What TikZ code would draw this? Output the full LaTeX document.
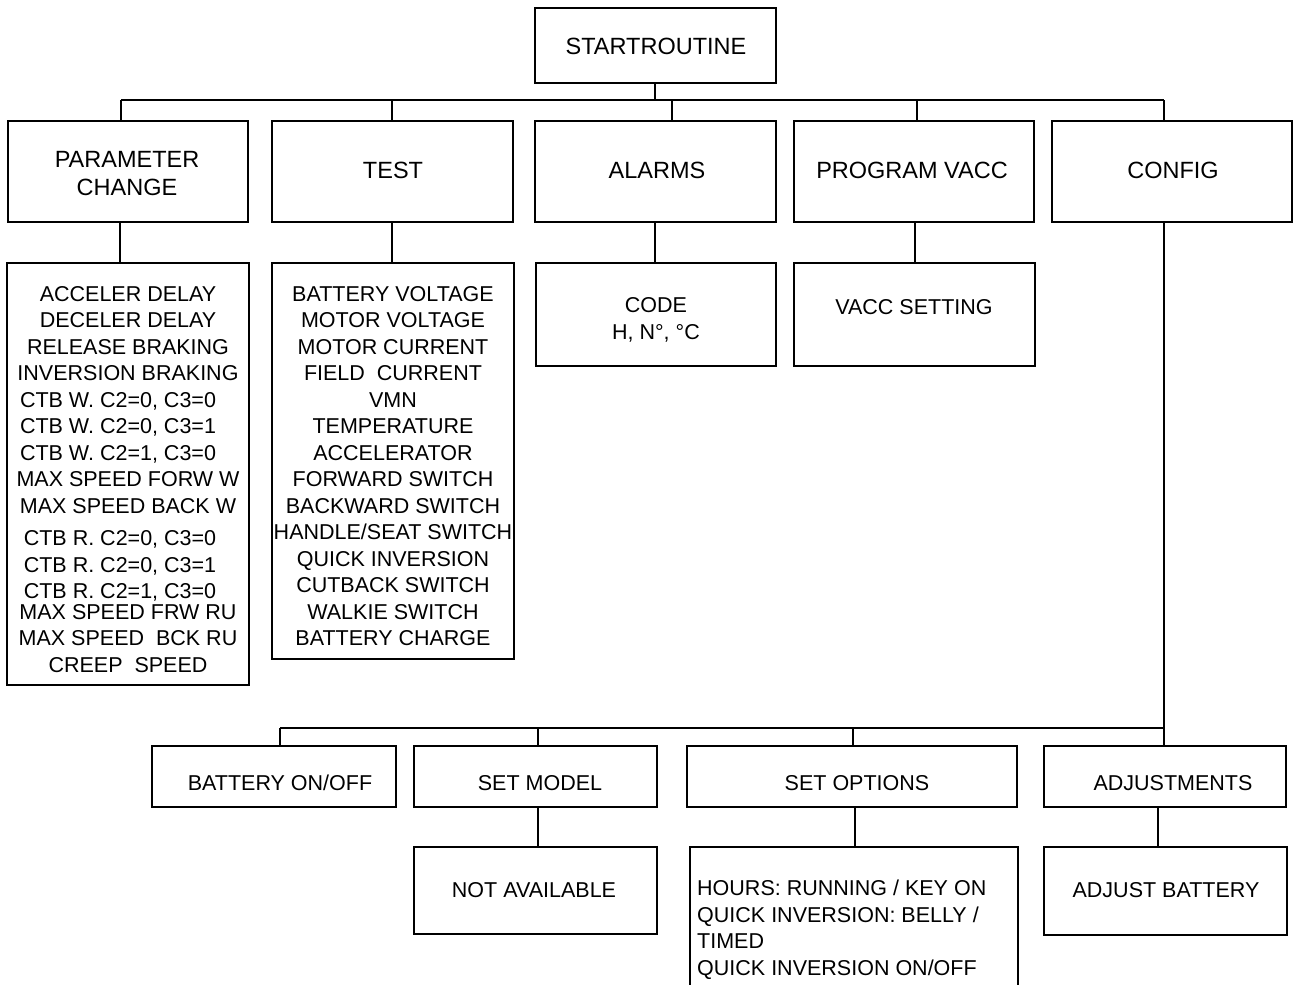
\documentclass[tikz,border=0pt]{standalone}
\usepackage{fontspec}
\setmainfont{Liberation Sans}
\begin{document}
\begin{tikzpicture}[x=1pt,y=-1pt,
  box/.style 2 args={draw,line width=2pt,inner sep=0pt,outer sep=0pt,minimum width=#1,minimum height=#2},
  conn/.style={line width=2pt},
  big/.style={font=\fontsize{23.5}{28}\selectfont,align=center,inner sep=0pt},
  txt/.style={font=\fontsize{21.5}{26.5}\selectfont,align=center,inner sep=0pt}]
\useasboundingbox (0,0) rectangle (1294,985);
\clip (0,0) rectangle (1294,985);
% boxes
\node[box={241}{75}] (start) at (655.5,45.5) {};
\node[box={240}{101}] (pc) at (128,171.5) {};
\node[box={241}{101}] (test) at (392.5,171.5) {};
\node[box={241}{101}] (alarms) at (655.5,171.5) {};
\node[box={240}{101}] (pvacc) at (914,171.5) {};
\node[box={240}{101}] (config) at (1172,171.5) {};
\node[box={242}{422}] (plist) at (128,474) {};
\node[box={242}{396}] (tlist) at (393,461) {};
\node[box={240}{103}] (code) at (656,314.5) {};
\node[box={241}{103}] (vset) at (914.5,314.5) {};
\node[box={244}{61}] (batt) at (274,776.5) {};
\node[box={243}{61}] (smodel) at (535.5,776.5) {};
\node[box={330}{61}] (sopt) at (852,776.5) {};
\node[box={242}{61}] (adj) at (1165,776.5) {};
\node[box={243}{87}] (na) at (535.5,890.5) {};
\node[box={328}{153}] (olist) at (854,923.5) {};
\node[box={243}{88}] (adjb) at (1165.5,891) {};
% texts
\node[big] (startt) at (656,46) {STARTROUTINE};
\node[big] (pct) at (127,174) {PARAMETER\\CHANGE};
\node[big] (testt) at (393,170) {TEST};
\node[big] (alarmst) at (657,170) {ALARMS};
\node[big] (pvacct) at (912,170) {PROGRAM VACC};
\node[big] (configt) at (1173,170) {CONFIG};
\node[txt] (plt) at (128,479.5) {ACCELER DELAY\\DECELER DELAY\\RELEASE BRAKING\\INVERSION BRAKING\\
\hbox{CTB W. C2=0, C3=0\kern20pt}\\\hbox{CTB W. C2=0, C3=1\kern20pt}\\\hbox{CTB W. C2=1, C3=0\kern20pt}\\
MAX SPEED FORW W\\MAX SPEED BACK W\\[6pt]
\hbox{CTB R. C2=0, C3=0\kern16pt}\\\hbox{CTB R. C2=0, C3=1\kern16pt}\\\hbox{CTB R. C2=1, C3=0\kern16pt}\\[-6pt]
MAX SPEED FRW RU\\MAX SPEED\ \ BCK RU\\CREEP\ \ SPEED};
\node[txt] (tlt) at (393,466) {BATTERY VOLTAGE\\MOTOR VOLTAGE\\MOTOR CURRENT\\FIELD\ \ CURRENT\\VMN\\
TEMPERATURE\\ACCELERATOR\\FORWARD SWITCH\\BACKWARD SWITCH\\HANDLE/SEAT SWITCH\\QUICK INVERSION\\
CUTBACK SWITCH\\WALKIE SWITCH\\BATTERY CHARGE};
\node[txt] (codet) at (656,320) {CODE\\H, N°, °C};
\node[txt] (vsett) at (914,307) {VACC SETTING};
\node[txt] (battt) at (280,783) {BATTERY ON/OFF};
\node[txt] (smodelt) at (540,783) {SET MODEL};
\node[txt] (soptt) at (857,783) {SET OPTIONS};
\node[txt] (adjt) at (1173,783) {ADJUSTMENTS};
\node[txt] (nat) at (534,890) {NOT AVAILABLE};
\node[txt] (adjbt) at (1166,890) {ADJUST BATTERY};
\node[txt,align=left,anchor=west] (olt) at (697,929.5) {HOURS: RUNNING / KEY ON\\QUICK INVERSION: BELLY /\\TIMED\\QUICK INVERSION ON/OFF};
% top bus
\coordinate (d0) at (655,100);
\coordinate (d1) at (121,100);
\coordinate (d2) at (392,100);
\coordinate (d3) at (672,100);
\coordinate (d4) at (917,100);
\coordinate (d5) at (1164,100);
\draw[conn] (d0 |- start.south) -- (d0);
\draw[conn] (d1) -- (d5);
\draw[conn] (d1) -- (d1 |- pc.north);
\draw[conn] (d2) -- (d2 |- test.north);
\draw[conn] (d3) -- (d3 |- alarms.north);
\draw[conn] (d4) -- (d4 |- pvacc.north);
\draw[conn] (d5) -- (d5 |- config.north);
% level 2 links
\coordinate (c1) at (120,240);
\coordinate (c2) at (392,240);
\coordinate (c3) at (655,240);
\coordinate (c4) at (915,240);
\draw[conn] (c1 |- pc.south) -- (c1 |- plist.north);
\draw[conn] (c2 |- test.south) -- (c2 |- tlist.north);
\draw[conn] (c3 |- alarms.south) -- (c3 |- code.north);
\draw[conn] (c4 |- pvacc.south) -- (c4 |- vset.north);
% config branch
\coordinate (f) at (1164,728);
\coordinate (g1) at (280,728);
\coordinate (g2) at (538,728);
\coordinate (g3) at (853,728);
\draw[conn] (f |- config.south) -- (f);
\draw[conn] (g1) -- (f);
\draw[conn] (g1) -- (g1 |- batt.north);
\draw[conn] (g2) -- (g2 |- smodel.north);
\draw[conn] (g3) -- (g3 |- sopt.north);
\draw[conn] (f) -- (f |- adj.north);
% lower children
\coordinate (h1) at (538,830);
\coordinate (h2) at (855,830);
\coordinate (h3) at (1158,830);
\draw[conn] (h1 |- smodel.south) -- (h1 |- na.north);
\draw[conn] (h2 |- sopt.south) -- (h2 |- olist.north);
\draw[conn] (h3 |- adj.south) -- (h3 |- adjb.north);
\end{tikzpicture}
\end{document}
